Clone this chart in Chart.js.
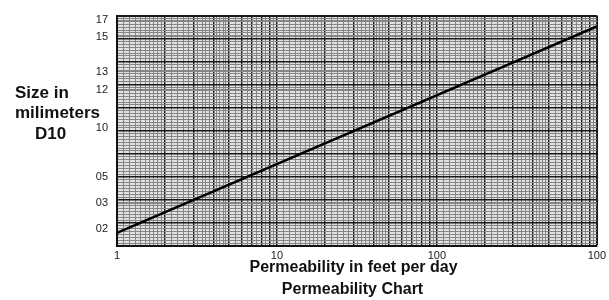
<!DOCTYPE html>
<html>
<head>
<meta charset="utf-8">
<script src="https://cdn.jsdelivr.net/npm/chart.js@4"></script>
<style>
html,body{margin:0;padding:0;background:#fff;}
#wrap{position:relative;width:609px;height:300px;}
</style>
</head>
<body>
<div id="wrap"><canvas id="c" width="609" height="300"></canvas></div>
<script>
// ---- data ----
const xLabelValues = [1, 10, 100, 1000];
const xLabels = ['1', '10', '100', '100'];
const yTickValues = [98.0, 90.9, 75.7, 67.9, 51.4, 30.0, 18.5, 7.4];
const yTickLabels = ['17', '15', '13', '12', '10', '05', '03', '02'];
const permeability = [1, 1000];
const sizeD10 = [5.7, 95.3];

// ---- log-paper grid lines (style only) ----
function round6(v){ return +v.toFixed(6); }
const xGrid = [];
for (let d = 0; d < 3; d++) {
  const p = Math.pow(10, d);
  for (let m = 1; m < 10; ) {
    xGrid.push(round6(m * p));
    const step = m < 2 ? 0.1 : (m < 5 ? 0.2 : 0.5);
    m = round6(m + step);
  }
}
xGrid.push(1000);
const yGrid = [];
for (let k = 0; k <= 80; k++) yGrid.push(round6(k * 1.25));
yTickValues.forEach(v => { if (!yGrid.includes(v)) yGrid.push(v); });
yGrid.sort((a, b) => a - b);

function isMajorX(v){
  const e = Math.floor(Math.log10(v) + 1e-9);
  const m = v / Math.pow(10, e);
  return Math.abs(m - Math.round(m)) < 1e-6;
}

const bgPlugin = {
  id: 'paper',
  beforeDraw(chart){
    const {ctx, chartArea:a} = chart;
    ctx.save();
    ctx.fillStyle = '#e2e2e2';
    ctx.fillRect(a.left, a.top, a.right - a.left, a.bottom - a.top);
    ctx.restore();
  },
  afterDraw(chart){
    const ctx = chart.ctx;
    ctx.save();
    ctx.fillStyle = '#111';
    ctx.textBaseline = 'alphabetic';
    ctx.font = 'bold 17px "Liberation Sans", Arial, sans-serif';
    ctx.textAlign = 'left';
    ctx.fillText('Size in', 15, 97.5);
    ctx.fillText('milimeters', 15, 118);
    ctx.fillText('D10', 35, 139);
    ctx.font = 'bold 16px "Liberation Sans", Arial, sans-serif';
    ctx.textAlign = 'center';
    ctx.fillText('Permeability in feet per day', 353.5, 271.5);
    ctx.fillText('Permeability Chart', 352.5, 294);
    ctx.restore();
  }
};

const tickFont = { family: '"Liberation Sans Narrow", "Liberation Sans", Arial, sans-serif', size: 11 };

new Chart(document.getElementById('c'), {
  type: 'line',
  data: {
    datasets: [{
      data: permeability.map((x, i) => ({ x: x, y: sizeD10[i] })),
      borderColor: '#000',
      borderWidth: 2.5,
      pointRadius: 0,
      tension: 0,
      fill: false
    }]
  },
  options: {
    responsive: false,
    animation: false,
    layout: { padding: { top: 12, right: 11, left: 0, bottom: 0 } },
    plugins: { legend: { display: false }, tooltip: { enabled: false }, title: { display: false } },
    scales: {
      x: {
        type: 'logarithmic',
        min: 1, max: 1000,
        afterBuildTicks(s){ s.ticks = xGrid.map(v => ({ value: v })); },
        afterFit(s){ s.height = 54; },
        border: { display: true, color: '#111', width: 2 },
        grid: {
          drawTicks: false,
          color: c => (isMajorX(c.tick.value) ? '#1a1a1a' : '#858585'),
          lineWidth: c => (c.tick.value === 1000 ? 2 : (isMajorX(c.tick.value) ? 1.4 : 1))
        },
        ticks: {
          autoSkip: false, maxRotation: 0, minRotation: 0, padding: 3,
          color: '#1a1a1a', font: tickFont,
          callback(v){ const i = xLabelValues.indexOf(round6(v)); return i >= 0 ? xLabels[i] : ''; }
        }
      },
      y: {
        type: 'linear',
        min: 0, max: 100,
        afterBuildTicks(s){ s.ticks = yGrid.map(v => ({ value: v })); },
        afterFit(s){ s.width = 117; },
        border: { display: true, color: '#111', width: 2 },
        grid: {
          drawTicks: false,
          color: c => (Math.abs(c.tick.value % 10) < 1e-6 ? '#1a1a1a' : '#858585'),
          lineWidth: c => (c.tick.value === 100 ? 2 : (Math.abs(c.tick.value % 10) < 1e-6 ? 1.4 : 1))
        },
        ticks: {
          autoSkip: false, padding: 9,
          color: '#1a1a1a', font: tickFont,
          callback(v){ const i = yTickValues.indexOf(v); return i >= 0 ? yTickLabels[i] : ''; }
        }
      }
    }
  },
  plugins: [bgPlugin]
});
</script>
</body>
</html>
